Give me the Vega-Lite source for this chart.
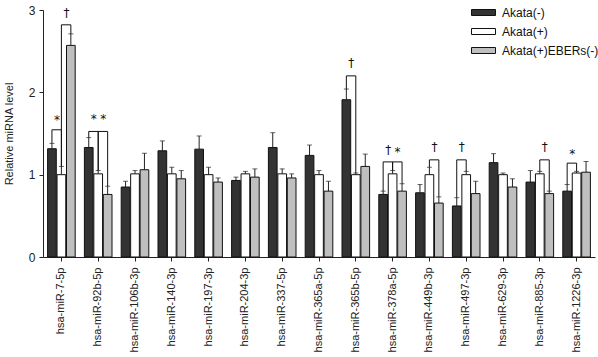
{
  "$schema": "https://vega.github.io/schema/vega-lite/v6.json",
  "autosize": {"type": "none"},
  "width": 552,
  "height": 247,
  "padding": {"left": 43, "top": 10, "right": 3, "bottom": 100},
  "background": "white",
  "config": {
    "view": {"stroke": null},
    "font": "Liberation Sans",
    "axis": {"grid": false, "domainColor": "#222", "tickColor": "#222", "labelColor": "#222", "titleColor": "#222", "labelFont": "Liberation Sans", "titleFont": "Liberation Sans"}
  },
  "datasets": {
    "bars": [
      {"gene": "hsa-miR-7-5p", "group": "Akata(-)", "value": 1.315, "upper": 1.38},
      {"gene": "hsa-miR-7-5p", "group": "Akata(+)", "value": 1.0, "upper": 1.10},
      {"gene": "hsa-miR-7-5p", "group": "Akata(+)EBERs(-)", "value": 2.57, "upper": 2.71},
      {"gene": "hsa-miR-92b-5p", "group": "Akata(-)", "value": 1.33, "upper": 1.45},
      {"gene": "hsa-miR-92b-5p", "group": "Akata(+)", "value": 1.01, "upper": 1.05},
      {"gene": "hsa-miR-92b-5p", "group": "Akata(+)EBERs(-)", "value": 0.76, "upper": 0.86},
      {"gene": "hsa-miR-106b-3p", "group": "Akata(-)", "value": 0.85, "upper": 0.92},
      {"gene": "hsa-miR-106b-3p", "group": "Akata(+)", "value": 1.01, "upper": 1.05},
      {"gene": "hsa-miR-106b-3p", "group": "Akata(+)EBERs(-)", "value": 1.06, "upper": 1.26},
      {"gene": "hsa-miR-140-3p", "group": "Akata(-)", "value": 1.29, "upper": 1.41},
      {"gene": "hsa-miR-140-3p", "group": "Akata(+)", "value": 1.01, "upper": 1.09},
      {"gene": "hsa-miR-140-3p", "group": "Akata(+)EBERs(-)", "value": 0.95, "upper": 1.05},
      {"gene": "hsa-miR-197-3p", "group": "Akata(-)", "value": 1.31, "upper": 1.47},
      {"gene": "hsa-miR-197-3p", "group": "Akata(+)", "value": 1.0, "upper": 1.09},
      {"gene": "hsa-miR-197-3p", "group": "Akata(+)EBERs(-)", "value": 0.91, "upper": 0.96},
      {"gene": "hsa-miR-204-3p", "group": "Akata(-)", "value": 0.93, "upper": 0.97},
      {"gene": "hsa-miR-204-3p", "group": "Akata(+)", "value": 1.01, "upper": 1.04},
      {"gene": "hsa-miR-204-3p", "group": "Akata(+)EBERs(-)", "value": 0.97, "upper": 1.07},
      {"gene": "hsa-miR-337-5p", "group": "Akata(-)", "value": 1.33, "upper": 1.51},
      {"gene": "hsa-miR-337-5p", "group": "Akata(+)", "value": 1.01, "upper": 1.07},
      {"gene": "hsa-miR-337-5p", "group": "Akata(+)EBERs(-)", "value": 0.96, "upper": 1.01},
      {"gene": "hsa-miR-365a-5p", "group": "Akata(-)", "value": 1.234, "upper": 1.36},
      {"gene": "hsa-miR-365a-5p", "group": "Akata(+)", "value": 1.0, "upper": 1.05},
      {"gene": "hsa-miR-365a-5p", "group": "Akata(+)EBERs(-)", "value": 0.80, "upper": 0.92},
      {"gene": "hsa-miR-365b-5p", "group": "Akata(-)", "value": 1.91, "upper": 2.04},
      {"gene": "hsa-miR-365b-5p", "group": "Akata(+)", "value": 1.0, "upper": 1.02},
      {"gene": "hsa-miR-365b-5p", "group": "Akata(+)EBERs(-)", "value": 1.10, "upper": 1.25},
      {"gene": "hsa-miR-378a-5p", "group": "Akata(-)", "value": 0.76, "upper": 0.80},
      {"gene": "hsa-miR-378a-5p", "group": "Akata(+)", "value": 1.01, "upper": 1.05},
      {"gene": "hsa-miR-378a-5p", "group": "Akata(+)EBERs(-)", "value": 0.80, "upper": 0.89},
      {"gene": "hsa-miR-449b-3p", "group": "Akata(-)", "value": 0.78, "upper": 0.88},
      {"gene": "hsa-miR-449b-3p", "group": "Akata(+)", "value": 1.0, "upper": 1.09},
      {"gene": "hsa-miR-449b-3p", "group": "Akata(+)EBERs(-)", "value": 0.655, "upper": 0.73},
      {"gene": "hsa-miR-497-3p", "group": "Akata(-)", "value": 0.62, "upper": 0.72},
      {"gene": "hsa-miR-497-3p", "group": "Akata(+)", "value": 1.0, "upper": 1.04},
      {"gene": "hsa-miR-497-3p", "group": "Akata(+)EBERs(-)", "value": 0.77, "upper": 0.92},
      {"gene": "hsa-miR-629-3p", "group": "Akata(-)", "value": 1.146, "upper": 1.255},
      {"gene": "hsa-miR-629-3p", "group": "Akata(+)", "value": 1.0, "upper": 1.02},
      {"gene": "hsa-miR-629-3p", "group": "Akata(+)EBERs(-)", "value": 0.85, "upper": 0.95},
      {"gene": "hsa-miR-885-3p", "group": "Akata(-)", "value": 0.91, "upper": 1.05},
      {"gene": "hsa-miR-885-3p", "group": "Akata(+)", "value": 1.01, "upper": 1.04},
      {"gene": "hsa-miR-885-3p", "group": "Akata(+)EBERs(-)", "value": 0.77, "upper": 0.80},
      {"gene": "hsa-miR-1226-3p", "group": "Akata(-)", "value": 0.80, "upper": 0.88},
      {"gene": "hsa-miR-1226-3p", "group": "Akata(+)", "value": 1.02, "upper": 1.04},
      {"gene": "hsa-miR-1226-3p", "group": "Akata(+)EBERs(-)", "value": 1.03, "upper": 1.16}
    ],
    "brackets": [
      {"id": 1, "ord": 1, "gene": "hsa-miR-7-5p", "group": "Akata(-)", "y": 1.38},
      {"id": 1, "ord": 2, "gene": "hsa-miR-7-5p", "group": "Akata(-)", "y": 1.545},
      {"id": 1, "ord": 3, "gene": "hsa-miR-7-5p", "group": "Akata(+)", "y": 1.545},
      {"id": 1, "ord": 4, "gene": "hsa-miR-7-5p", "group": "Akata(+)", "y": 1.10},
      {"id": 2, "ord": 1, "gene": "hsa-miR-7-5p", "group": "Akata(+)", "y": 1.10},
      {"id": 2, "ord": 2, "gene": "hsa-miR-7-5p", "group": "Akata(+)", "y": 2.82},
      {"id": 2, "ord": 3, "gene": "hsa-miR-7-5p", "group": "Akata(+)EBERs(-)", "y": 2.82},
      {"id": 2, "ord": 4, "gene": "hsa-miR-7-5p", "group": "Akata(+)EBERs(-)", "y": 2.71},
      {"id": 3, "ord": 1, "gene": "hsa-miR-92b-5p", "group": "Akata(-)", "y": 1.45},
      {"id": 3, "ord": 2, "gene": "hsa-miR-92b-5p", "group": "Akata(-)", "y": 1.525},
      {"id": 3, "ord": 3, "gene": "hsa-miR-92b-5p", "group": "Akata(+)", "y": 1.525},
      {"id": 3, "ord": 4, "gene": "hsa-miR-92b-5p", "group": "Akata(+)", "y": 1.05},
      {"id": 4, "ord": 1, "gene": "hsa-miR-92b-5p", "group": "Akata(+)", "y": 1.05},
      {"id": 4, "ord": 2, "gene": "hsa-miR-92b-5p", "group": "Akata(+)", "y": 1.525},
      {"id": 4, "ord": 3, "gene": "hsa-miR-92b-5p", "group": "Akata(+)EBERs(-)", "y": 1.525},
      {"id": 4, "ord": 4, "gene": "hsa-miR-92b-5p", "group": "Akata(+)EBERs(-)", "y": 0.86},
      {"id": 5, "ord": 1, "gene": "hsa-miR-365b-5p", "group": "Akata(-)", "y": 2.04},
      {"id": 5, "ord": 2, "gene": "hsa-miR-365b-5p", "group": "Akata(-)", "y": 2.20},
      {"id": 5, "ord": 3, "gene": "hsa-miR-365b-5p", "group": "Akata(+)", "y": 2.20},
      {"id": 5, "ord": 4, "gene": "hsa-miR-365b-5p", "group": "Akata(+)", "y": 1.02},
      {"id": 6, "ord": 1, "gene": "hsa-miR-378a-5p", "group": "Akata(-)", "y": 0.80},
      {"id": 6, "ord": 2, "gene": "hsa-miR-378a-5p", "group": "Akata(-)", "y": 1.155},
      {"id": 6, "ord": 3, "gene": "hsa-miR-378a-5p", "group": "Akata(+)", "y": 1.155},
      {"id": 6, "ord": 4, "gene": "hsa-miR-378a-5p", "group": "Akata(+)", "y": 1.05},
      {"id": 7, "ord": 1, "gene": "hsa-miR-378a-5p", "group": "Akata(+)", "y": 1.05},
      {"id": 7, "ord": 2, "gene": "hsa-miR-378a-5p", "group": "Akata(+)", "y": 1.155},
      {"id": 7, "ord": 3, "gene": "hsa-miR-378a-5p", "group": "Akata(+)EBERs(-)", "y": 1.155},
      {"id": 7, "ord": 4, "gene": "hsa-miR-378a-5p", "group": "Akata(+)EBERs(-)", "y": 0.89},
      {"id": 8, "ord": 1, "gene": "hsa-miR-449b-3p", "group": "Akata(+)", "y": 1.09},
      {"id": 8, "ord": 2, "gene": "hsa-miR-449b-3p", "group": "Akata(+)", "y": 1.18},
      {"id": 8, "ord": 3, "gene": "hsa-miR-449b-3p", "group": "Akata(+)EBERs(-)", "y": 1.18},
      {"id": 8, "ord": 4, "gene": "hsa-miR-449b-3p", "group": "Akata(+)EBERs(-)", "y": 0.73},
      {"id": 9, "ord": 1, "gene": "hsa-miR-497-3p", "group": "Akata(-)", "y": 0.72},
      {"id": 9, "ord": 2, "gene": "hsa-miR-497-3p", "group": "Akata(-)", "y": 1.18},
      {"id": 9, "ord": 3, "gene": "hsa-miR-497-3p", "group": "Akata(+)", "y": 1.18},
      {"id": 9, "ord": 4, "gene": "hsa-miR-497-3p", "group": "Akata(+)", "y": 1.04},
      {"id": 10, "ord": 1, "gene": "hsa-miR-885-3p", "group": "Akata(+)", "y": 1.04},
      {"id": 10, "ord": 2, "gene": "hsa-miR-885-3p", "group": "Akata(+)", "y": 1.18},
      {"id": 10, "ord": 3, "gene": "hsa-miR-885-3p", "group": "Akata(+)EBERs(-)", "y": 1.18},
      {"id": 10, "ord": 4, "gene": "hsa-miR-885-3p", "group": "Akata(+)EBERs(-)", "y": 0.80},
      {"id": 11, "ord": 1, "gene": "hsa-miR-1226-3p", "group": "Akata(-)", "y": 0.88},
      {"id": 11, "ord": 2, "gene": "hsa-miR-1226-3p", "group": "Akata(-)", "y": 1.14},
      {"id": 11, "ord": 3, "gene": "hsa-miR-1226-3p", "group": "Akata(+)", "y": 1.14},
      {"id": 11, "ord": 4, "gene": "hsa-miR-1226-3p", "group": "Akata(+)", "y": 1.04}
    ],
    "signs": [
      {"gene": "hsa-miR-7-5p", "group": "Akata(-)", "y": 1.66, "sym": "*"},
      {"gene": "hsa-miR-7-5p", "group": "Akata(+)", "y": 2.96, "sym": "†"},
      {"gene": "hsa-miR-92b-5p", "group": "Akata(-)", "y": 1.68, "sym": "*"},
      {"gene": "hsa-miR-92b-5p", "group": "Akata(+)", "y": 1.68, "sym": "*"},
      {"gene": "hsa-miR-365b-5p", "group": "Akata(-)", "y": 2.36, "sym": "†"},
      {"gene": "hsa-miR-378a-5p", "group": "Akata(-)", "y": 1.30, "sym": "†"},
      {"gene": "hsa-miR-378a-5p", "group": "Akata(+)", "y": 1.28, "sym": "*"},
      {"gene": "hsa-miR-449b-3p", "group": "Akata(+)", "y": 1.33, "sym": "†"},
      {"gene": "hsa-miR-497-3p", "group": "Akata(-)", "y": 1.33, "sym": "†"},
      {"gene": "hsa-miR-885-3p", "group": "Akata(+)", "y": 1.33, "sym": "†"},
      {"gene": "hsa-miR-1226-3p", "group": "Akata(-)", "y": 1.25, "sym": "*"}
    ]
  },
  "encoding": {
    "x": {
      "field": "gene", "type": "nominal", "sort": null,
      "scale": {"paddingInner": 0.25, "paddingOuter": 0.125},
      "axis": {"title": null, "labelAngle": -90, "labelFontSize": 11, "tickSize": 4, "labelPadding": 6, "domainWidth": 1}
    },
    "xOffset": {
      "field": "group", "type": "nominal",
      "scale": {"domain": ["Akata(-)", "Akata(+)", "Akata(+)EBERs(-)"], "paddingInner": 0.08}
    }
  },
  "layer": [
    {
      "data": {"name": "bars"},
      "mark": {"type": "rule", "color": "#222", "strokeWidth": 1},
      "encoding": {
        "y": {"field": "value", "type": "quantitative",
          "scale": {"domain": [0, 3]},
          "axis": {"title": "Relative miRNA level", "values": [0, 1, 2, 3], "format": "d", "tickSize": 4, "labelFontSize": 12, "titleFontSize": 11, "titleFontWeight": "normal", "titlePadding": 14, "labelPadding": 4}},
        "y2": {"field": "upper"}
      }
    },
    {
      "data": {"name": "bars"},
      "mark": {"type": "tick", "color": "#222", "thickness": 1, "size": 5, "orient": "horizontal"},
      "encoding": {
        "y": {"field": "upper", "type": "quantitative"}
      }
    },
    {
      "data": {"name": "bars"},
      "mark": {"type": "bar", "stroke": "#111", "strokeWidth": 1},
      "encoding": {
        "y": {"field": "value", "type": "quantitative"},
        "fill": {
          "field": "group", "type": "nominal",
          "scale": {"domain": ["Akata(-)", "Akata(+)", "Akata(+)EBERs(-)"], "range": ["#333333", "#ffffff", "#bfbfbf"]},
          "legend": {
            "title": null, "orient": "none", "legendX": 434, "legendY": -4,
            "symbolType": "M-2,-0.5L2,-0.5L2,0.5L-2,0.5Z", "symbolSize": 144,
            "symbolStrokeColor": "#111", "symbolStrokeWidth": 1, "labelFontSize": 12, "labelFont": "Liberation Sans", "labelColor": "#111",
            "rowPadding": 6, "labelOffset": 12
          }
        }
      }
    },
    {
      "data": {"name": "brackets"},
      "mark": {"type": "line", "color": "#111", "strokeWidth": 1, "interpolate": "linear"},
      "encoding": {
        "y": {"field": "y", "type": "quantitative"},
        "detail": {"field": "id", "type": "nominal"},
        "order": {"field": "ord", "type": "quantitative"}
      }
    },
    {
      "data": {"name": "signs"},
      "mark": {"type": "text", "fontSize": 12, "fill": "#111", "dx": 5, "baseline": "middle", "font": "DejaVu Sans"},
      "encoding": {
        "y": {"field": "y", "type": "quantitative"},
        "text": {"field": "sym"}
      }
    }
  ]
}
